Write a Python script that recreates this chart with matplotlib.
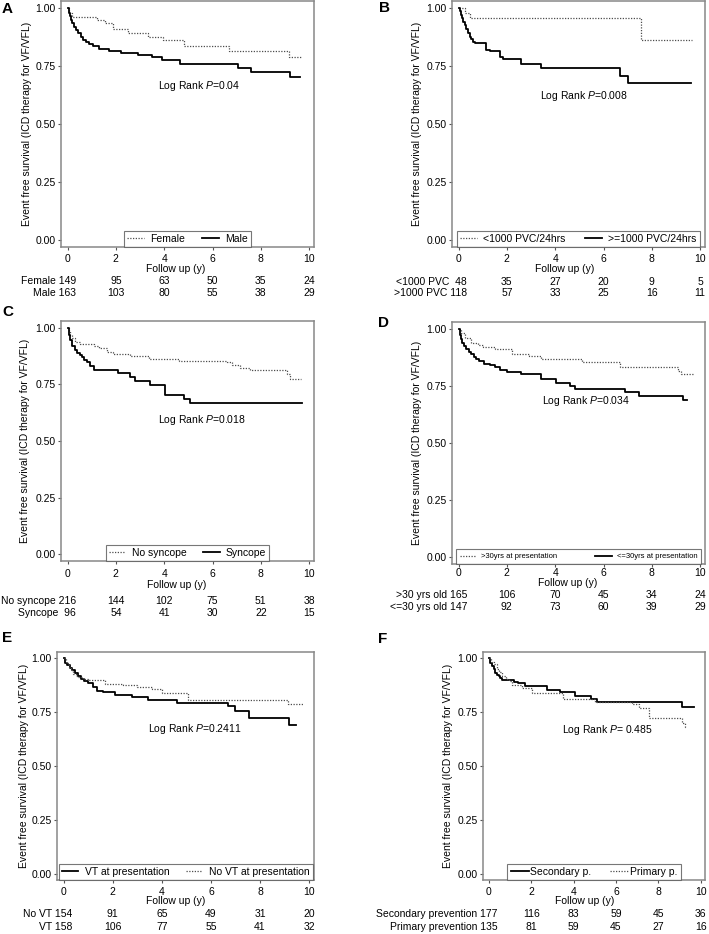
import matplotlib
matplotlib.use("Agg")
import matplotlib.pyplot as plt
from matplotlib.transforms import blended_transform_factory

plt.rcParams['font.family'] = ['Liberation Sans', 'DejaVu Sans']
plt.rcParams['mathtext.fontset'] = 'custom'
plt.rcParams['mathtext.rm'] = 'Liberation Sans'
plt.rcParams['mathtext.it'] = 'Liberation Sans:italic'

W, H = 709, 934

# ---- data ----
risk_times = [0, 2, 4, 6, 8, 10]

# A: sex
female_t = [0, 0.08, 0.2, 1.2, 1.55, 1.9, 2.5, 3.35, 3.95, 4.8, 6.7, 9.15, 9.72]
female_s = [1.0, 0.98, 0.96, 0.95, 0.935, 0.91, 0.89, 0.875, 0.862, 0.835, 0.814, 0.789, 0.789]
male_t = [0, 0.05, 0.1, 0.15, 0.2, 0.27, 0.35, 0.45, 0.55, 0.65, 0.76, 0.9, 1.04, 1.3, 1.7,
          2.2, 2.9, 3.5, 3.9, 4.65, 7.05, 7.6, 9.2, 9.62]
male_s = [1.0, 0.98, 0.965, 0.95, 0.935, 0.92, 0.905, 0.89, 0.875, 0.863, 0.852, 0.845, 0.837,
          0.825, 0.815, 0.808, 0.799, 0.789, 0.777, 0.758, 0.74, 0.722, 0.702, 0.702]
female_risk = [149, 95, 63, 50, 35, 24]
male_risk = [163, 103, 80, 55, 38, 29]

# B: PVC burden
lowpvc_t = [0, 0.25, 0.46, 7.54, 9.66]
lowpvc_s = [1.0, 0.977, 0.955, 0.86, 0.86]
highpvc_t = [0, 0.05, 0.1, 0.15, 0.2, 0.25, 0.32, 0.4, 0.46, 0.53, 0.6, 0.7, 0.8, 1.12, 1.3,
             1.7, 1.85, 2.6, 3.4, 6.7, 7.0, 9.6]
highpvc_s = [1.0, 0.985, 0.97, 0.955, 0.94, 0.925, 0.91, 0.893, 0.875, 0.865, 0.855, 0.85,
             0.847, 0.818, 0.815, 0.79, 0.778, 0.76, 0.74, 0.708, 0.676, 0.676]
lowpvc_risk = [48, 35, 27, 20, 9, 5]
highpvc_risk = [118, 57, 33, 25, 16, 11]

# C: syncope
nosync_t = [0, 0.05, 0.12, 0.2, 0.32, 0.52, 1.08, 1.3, 1.63, 1.9, 2.6, 3.36, 4.6, 6.6, 6.8,
            7.15, 7.57, 9.09, 9.2, 9.68]
nosync_s = [1.0, 0.985, 0.97, 0.955, 0.936, 0.929, 0.921, 0.91, 0.891, 0.884, 0.876, 0.862,
            0.854, 0.847, 0.835, 0.824, 0.812, 0.795, 0.772, 0.772]
sync_t = [0, 0.05, 0.1, 0.18, 0.3, 0.39, 0.5, 0.6, 0.7, 0.8, 0.95, 1.08, 2.1, 2.6, 2.8, 3.43,
          4.05, 4.8, 5.08, 9.7]
sync_s = [1.0, 0.97, 0.945, 0.92, 0.9, 0.89, 0.88, 0.87, 0.858, 0.847, 0.83, 0.815, 0.8, 0.782,
          0.765, 0.746, 0.705, 0.687, 0.668, 0.668]
nosync_risk = [216, 144, 102, 75, 51, 38]
sync_risk = [96, 54, 41, 30, 22, 15]

# D: age
old_t = [0, 0.1, 0.25, 0.52, 0.8, 1.0, 1.5, 2.2, 2.9, 3.4, 5.1, 6.7, 9.1, 9.2, 9.75]
old_s = [1.0, 0.98, 0.96, 0.938, 0.93, 0.92, 0.91, 0.892, 0.882, 0.87, 0.853, 0.831, 0.815,
         0.803, 0.803]
young_t = [0, 0.05, 0.1, 0.14, 0.22, 0.32, 0.42, 0.52, 0.62, 0.73, 0.85, 1.04, 1.3, 1.5, 1.72,
           2.0, 2.6, 3.43, 4.04, 4.6, 4.83, 6.9, 7.46, 9.3, 9.45]
young_s = [1.0, 0.975, 0.955, 0.94, 0.924, 0.912, 0.9, 0.89, 0.878, 0.867, 0.857, 0.846, 0.84,
           0.835, 0.82, 0.81, 0.803, 0.78, 0.762, 0.75, 0.738, 0.725, 0.707, 0.688, 0.688]
old_risk = [165, 106, 70, 45, 34, 24]
young_risk = [147, 92, 73, 60, 39, 29]

# E: VT at presentation
novt_t = [0, 0.1, 0.2, 0.3, 0.4, 0.5, 0.6, 0.8, 1.0, 1.7, 2.4, 2.97, 3.58, 4.0, 5.05, 9.15, 9.75]
novt_s = [1.0, 0.98, 0.96, 0.945, 0.93, 0.92, 0.912, 0.905, 0.899, 0.882, 0.875, 0.865, 0.858,
          0.838, 0.805, 0.786, 0.786]
vt_t = [0, 0.05, 0.12, 0.25, 0.35, 0.45, 0.58, 0.72, 0.85, 1.0, 1.2, 1.35, 1.6, 2.08, 2.77,
        3.45, 4.6, 6.7, 7.0, 7.55, 9.2, 9.45]
vt_s = [1.0, 0.98, 0.97, 0.956, 0.945, 0.933, 0.92, 0.905, 0.895, 0.886, 0.865, 0.85, 0.845,
        0.832, 0.822, 0.808, 0.793, 0.777, 0.755, 0.722, 0.692, 0.692]
novt_risk = [154, 91, 65, 49, 31, 20]
vt_risk = [158, 106, 77, 55, 41, 32]

# F: prevention
sec_t = [0, 0.08, 0.16, 0.24, 0.31, 0.39, 0.47, 0.55, 0.63, 1.18, 1.4, 1.73, 2.75, 3.38, 4.09,
         4.8, 5.1, 9.1, 9.67]
sec_s = [1.0, 0.98, 0.964, 0.95, 0.933, 0.925, 0.917, 0.908, 0.9, 0.891, 0.885, 0.874, 0.852,
         0.843, 0.824, 0.812, 0.796, 0.774, 0.774]
prim_t = [0, 0.1, 0.24, 0.39, 0.5, 0.63, 0.8, 0.94, 1.1, 1.57, 2.04, 3.5, 5.0, 6.76, 7.07, 7.55,
          9.1, 9.25, 9.32]
prim_s = [1.0, 0.985, 0.972, 0.95, 0.935, 0.917, 0.905, 0.894, 0.878, 0.863, 0.84, 0.81, 0.798,
          0.79, 0.77, 0.725, 0.7, 0.68, 0.68]
sec_risk = [177, 116, 83, 59, 45, 36]
prim_risk = [135, 81, 59, 45, 27, 16]

# ---- styles ----
solid = dict(color='black', lw=1.3, ls='-')
dotted = dict(color='#4d4d4d', lw=0.9, ls=(0, (1, 1.2)))
FS = 7.5

fig = plt.figure(figsize=(W / 100, H / 100), dpi=100)


def fx(x):
    return x / W


def fy(y):
    return 1 - y / H


def panel(letter, letter_xy, box, curves, pval, pval_xy, rows, row_y, follow_xy, ylab_x,
          xpad=2.5, leg_fs=FS, leg_kw=None):
    l, t, r, b = box
    ax = fig.add_axes([fx(l), fy(b), (r - l) / W, (b - t) / H])
    for tt, ss, style, lab in curves:
        ax.step(tt, ss, where='post', label=lab, **style)
    ax.set_xlim(-0.27, 10.2)
    ax.set_ylim(-0.03, 1.03)
    ax.set_xticks(risk_times)
    ax.set_yticks([0, 0.25, 0.5, 0.75, 1.0])
    ax.set_yticklabels(['0.00', '0.25', '0.50', '0.75', '1.00'])
    ax.tick_params(direction='out', length=2.5, width=0.8, color='#555555',
                   labelsize=FS, pad=1.5)
    ax.tick_params(axis='x', pad=xpad)
    for sp in ax.spines.values():
        sp.set_color('#888888')
        sp.set_linewidth(1.1)

    kw = dict(loc='lower center', bbox_to_anchor=(0.5, 0), ncol=2, frameon=True,
              fancybox=False, edgecolor='#555555', fontsize=leg_fs, handlelength=1.6,
              handletextpad=0.6, columnspacing=1.6, borderpad=0.3, borderaxespad=0)
    if leg_kw:
        kw.update(leg_kw)
    leg = ax.legend(**kw)
    leg.get_frame().set_linewidth(0.8)

    ax.text(pval_xy[0], pval_xy[1], pval, ha='center', va='center', fontsize=FS)

    fig.text(fx(letter_xy[0]), fy(letter_xy[1]), letter, fontsize=11, fontweight='bold',
             ha='left', va='center')
    fig.text(fx(ylab_x), fy((t + b) / 2), 'Event free survival (ICD therapy for VF/VFL)',
             rotation=90, ha='center', va='center', fontsize=FS)
    fig.text(fx(follow_xy[0]), fy(follow_xy[1]), 'Follow up (y)', ha='center', va='center',
             fontsize=FS)

    tr = blended_transform_factory(ax.transData, fig.transFigure)
    for (label, counts), ry in zip(rows, row_y):
        for i, n in enumerate(counts):
            if i == 0:
                ax.annotate(f'{label} {n}', xy=(risk_times[0], fy(ry)), xycoords=tr,
                            xytext=(6.2, 0), textcoords='offset points', ha='right',
                            va='center', fontsize=FS, annotation_clip=False)
            else:
                ax.text(risk_times[i], fy(ry), str(n), transform=tr, ha='center',
                        va='center', fontsize=FS)
    return ax


panel('A', (2, 9), (61, 1, 314, 247),
      [(female_t, female_s, dotted, 'Female'), (male_t, male_s, solid, 'Male')],
      r'Log Rank $P$=0.04', (5.46, 0.662),
      [('Female', female_risk), ('Male', male_risk)], (281, 293), (176, 268.5), 27)

panel('B', (379, 8), (452, 1, 705, 247),
      [(lowpvc_t, lowpvc_s, dotted, '<1000 PVC/24hrs'),
       (highpvc_t, highpvc_s, solid, '>=1000 PVC/24hrs')],
      r'Log Rank $P$=0.008', (5.19, 0.619),
      [('<1000 PVC ', lowpvc_risk), ('>1000 PVC', highpvc_risk)], (282, 293), (565, 268.5), 417,
      leg_kw=dict(columnspacing=1.9))

panel('C', (2, 312), (61, 321, 314, 561),
      [(nosync_t, nosync_s, dotted, 'No syncope'), (sync_t, sync_s, solid, 'Syncope')],
      r'Log Rank $P$=0.018', (5.57, 0.591),
      [('No syncope', nosync_risk), ('Syncope ', sync_risk)], (601, 613), (177, 585), 25.5,
      xpad=3.0)

panel('D', (378, 323), (452, 322, 705, 564),
      [(old_t, old_s, dotted, '>30yrs at presentation'),
       (young_t, young_s, solid, '<=30yrs at presentation')],
      r'Log Rank $P$=0.034', (5.27, 0.684),
      [('>30 yrs old', old_risk), ('<=30 yrs old', young_risk)], (595, 607), (568, 583), 417,
      xpad=0.3, leg_fs=5.5, leg_kw=dict(columnspacing=5.0, handlelength=2.2, borderpad=0.5))

panel('E', (2, 638), (57, 652, 314, 880),
      [(vt_t, vt_s, solid, 'VT at presentation'), (novt_t, novt_s, dotted, 'No VT at presentation')],
      r'Log Rank $P$=0.2411', (5.35, 0.671),
      [('No VT', novt_risk), ('VT', vt_risk)], (914, 927), (175.5, 901), 24)

panel('F', (378, 639), (483, 652, 705, 880),
      [(sec_t, sec_s, solid, 'Secondary p.'), (prim_t, prim_s, dotted, 'Primary p.')],
      r'Log Rank $P$= 0.485', (5.58, 0.668),
      [('Secondary prevention', sec_risk), ('Primary prevention', prim_risk)], (914, 927),
      (584.5, 901), 448, leg_kw=dict(handletextpad=0.1, columnspacing=1.8, handlelength=1.8))

fig.savefig('out.png', dpi=100)
